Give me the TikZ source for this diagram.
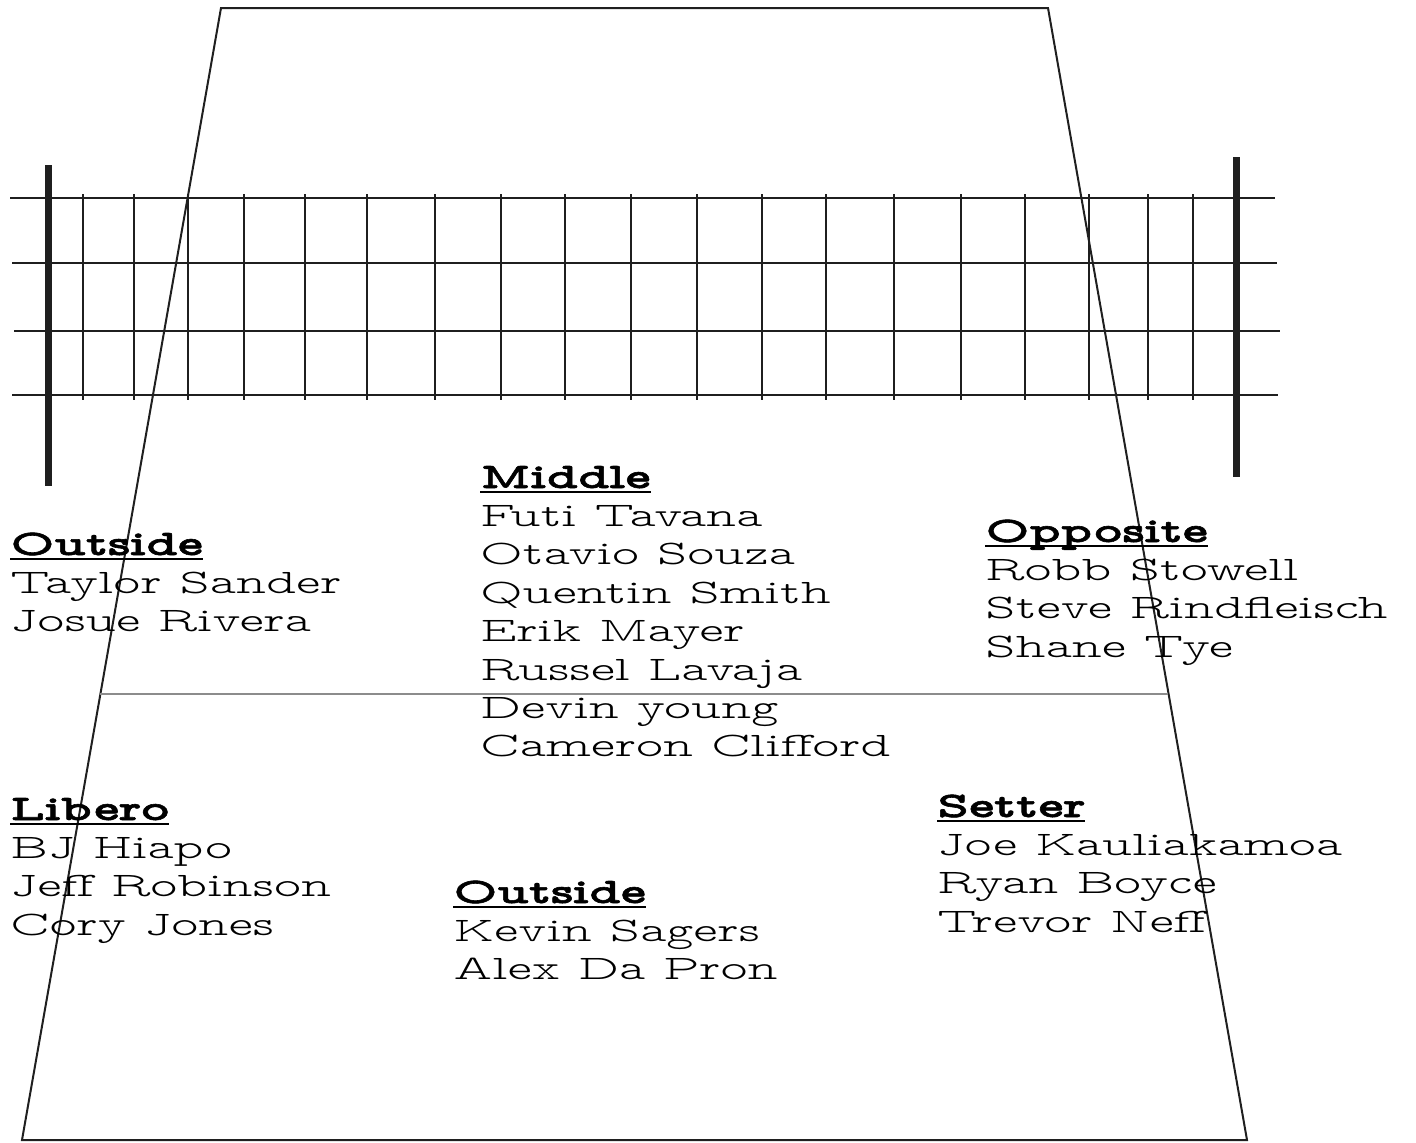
\documentclass[tikz,border=0pt]{standalone}
\usepackage{fontspec}
\setmainfont{lmmonoproplt10-regular.otf}[
    BoldFont=lmmonoproplt10-bold.otf, BoldFeatures={FakeBold=1.6},
    FakeStretch=1.5]

% underlined role heading
\newcommand\rolehead[1]{\setbox0\hbox{\bfseries #1}%
    \rlap{\rule[-2.4pt]{\wd0}{1pt}}\box0}

\begin{document}
\begin{tikzpicture}[
    x=0.5pt, y=-0.5pt,
    court/.style={draw=black!88, line width=1pt, line join=miter},
    attack/.style={draw=black!45, line width=1pt},
    netline/.style={draw=black!88, line width=1pt},
    post/.style={draw=black!88, line width=3.5pt},
    player/.style={anchor=base west, inner sep=0pt,
        font=\fontsize{17.2}{20}\selectfont},
    role/.style={player, font=\fontsize{18}{21}\selectfont}
]
\path[use as bounding box] (0,0) rectangle (1416,1142);

% court and attack line
\draw[court] (22,1140) -- (221,8) -- (1048,8) -- (1247,1140) -- cycle;
\draw[attack] (100,694) -- (1168,694);

% net
\foreach \y/\a/\b in {198/10/1275, 263/12/1277, 331/14/1280, 395/12/1278}
    \draw[netline] (\a,\y) -- (\b,\y);
\foreach \x in {83,134,188,244,305,367,435,501,565,631,697,762,826,894,961,1025,1089,1148,1193}
    \draw[netline] (\x,194) -- (\x,400);
\draw[post] (48,165) -- (48,486);
\draw[post] (1236,157) -- (1236,477);

% outside (front)
\node[role] (outside-a) at (10,555) {\rolehead{Outside}};
\foreach \name [count=\k] in {Taylor Sander, Josue Rivera}
    \node[player] (outside-a-\k) at (10,555+38.4*\k) {\name};

% middle
\node[role] (middle) at (480,488) {\rolehead{Middle}};
\foreach \name [count=\k] in {Futi Tavana, Otavio Souza, Quentin Smith,
        Erik Mayer, Russel Lavaja, Devin young, Cameron Clifford}
    \node[player] (middle-\k) at (480,488+38.4*\k) {\name};

% opposite
\node[role] (opposite) at (985,542) {\rolehead{Opposite}};
\foreach \name [count=\k] in {Robb Stowell, Steve Rindfleisch, Shane Tye}
    \node[player] (opposite-\k) at (985,542+38.4*\k) {\name};

% libero
\node[role] (libero) at (10,820) {\rolehead{Libero}};
\foreach \name [count=\k] in {BJ Hiapo, Jeff Robinson, Cory Jones}
    \node[player] (libero-\k) at (10,820+38.4*\k) {\name};

% outside (back)
\node[role] (outside-b) at (453,903) {\rolehead{Outside}};
\foreach \name [count=\k] in {Kevin Sagers, Alex Da Pron}
    \node[player] (outside-b-\k) at (453,903+38.4*\k) {\name};

% setter
\node[role] (setter) at (937,817) {\rolehead{Setter}};
\foreach \name [count=\k] in {Joe Kauliakamoa, Ryan Boyce, Trevor Neff}
    \node[player] (setter-\k) at (937,817+38.4*\k) {\name};

\end{tikzpicture}
\end{document}
